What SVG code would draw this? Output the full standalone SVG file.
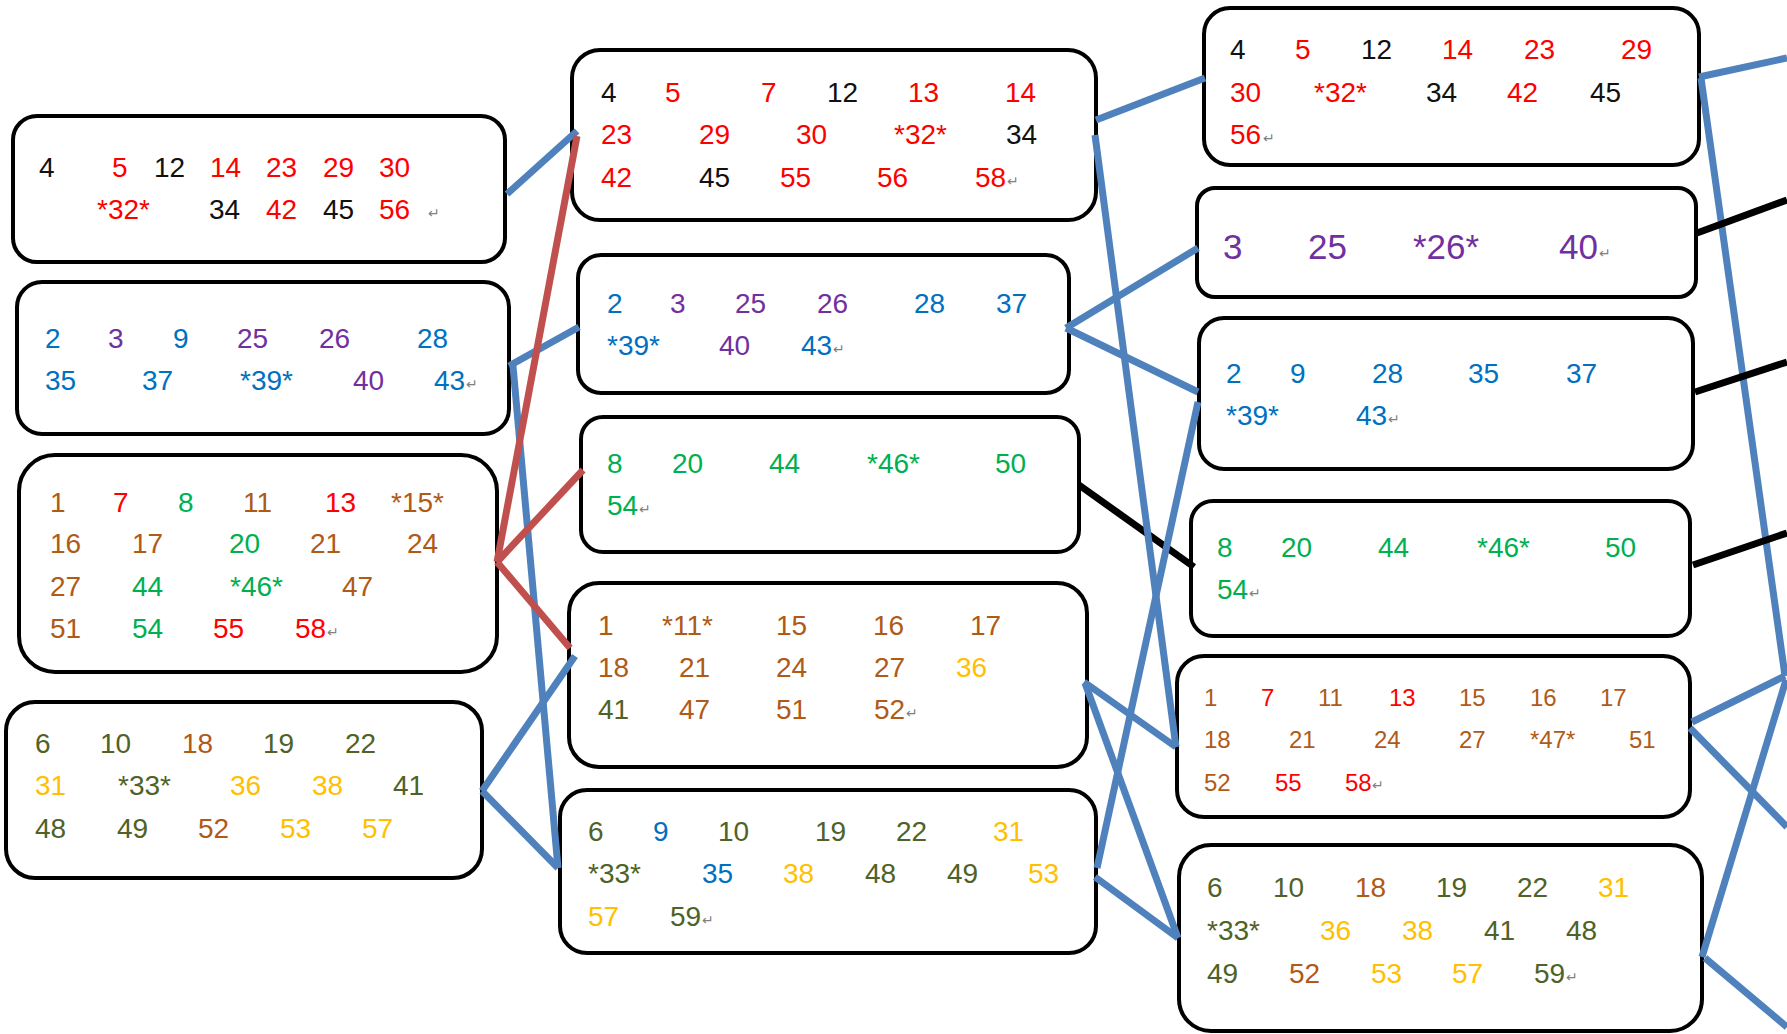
<svg xmlns="http://www.w3.org/2000/svg" width="1787" height="1034" viewBox="0 0 1787 1034">
<style>
.box{fill:#fff;stroke:#000;stroke-width:4}
text{font-family:"Liberation Sans",Arial,sans-serif;font-size:28px}
.s{font-size:24px}
.L{font-size:35px}
.k{fill:#111}
.r{fill:#FF0000}
.b{fill:#0070C0}
.p{fill:#7030A0}
.g{fill:#00B050}
.n{fill:#B05A18}
.o{fill:#4F6228}
.y{fill:#FFC000}
.m{fill:#808080;font-family:"DejaVu Sans",sans-serif;font-size:14px}
.bl{stroke:#4F81BD;stroke-width:7;fill:none}
.rd{stroke:#C0504D;stroke-width:7;fill:none}
.bk{stroke:#000;stroke-width:7;fill:none}
</style>
<rect width="1787" height="1034" fill="#fff"/>

<g id="A1">
<rect class="box" x="13" y="116" width="492" height="146" rx="24"/>
<text y="177"><tspan class="k" x="39">4</tspan><tspan class="r" x="112">5</tspan><tspan class="k" x="154">12</tspan><tspan class="r" x="210">14</tspan><tspan class="r" x="266">23</tspan><tspan class="r" x="323">29</tspan><tspan class="r" x="379">30</tspan></text>
<text y="219"><tspan class="r" x="97">*32*</tspan><tspan class="k" x="209">34</tspan><tspan class="r" x="266">42</tspan><tspan class="k" x="323">45</tspan><tspan class="r" x="379">56</tspan></text>
<text class="m" x="428" y="218">↵</text>
</g>

<g id="A2">
<rect class="box" x="17" y="282" width="492" height="152" rx="25"/>
<text y="348"><tspan class="b" x="45">2</tspan><tspan class="p" x="108">3</tspan><tspan class="b" x="173">9</tspan><tspan class="p" x="237">25</tspan><tspan class="p" x="319">26</tspan><tspan class="b" x="417">28</tspan></text>
<text y="390"><tspan class="b" x="45">35</tspan><tspan class="b" x="142">37</tspan><tspan class="b" x="240">*39*</tspan><tspan class="p" x="353">40</tspan><tspan class="b" x="434">43</tspan></text>
<text class="m" x="466" y="389">↵</text>
</g>

<g id="A3">
<rect class="box" x="19" y="455" width="478" height="217" rx="36"/>
<text y="512"><tspan class="n" x="50">1</tspan><tspan class="r" x="113">7</tspan><tspan class="g" x="178">8</tspan><tspan class="n" x="243">11</tspan><tspan class="r" x="325">13</tspan><tspan class="n" x="391">*15*</tspan></text>
<text y="553"><tspan class="n" x="50">16</tspan><tspan class="n" x="132">17</tspan><tspan class="g" x="229">20</tspan><tspan class="n" x="310">21</tspan><tspan class="n" x="407">24</tspan></text>
<text y="596"><tspan class="n" x="50">27</tspan><tspan class="g" x="132">44</tspan><tspan class="g" x="230">*46*</tspan><tspan class="n" x="342">47</tspan></text>
<text y="638"><tspan class="n" x="50">51</tspan><tspan class="g" x="132">54</tspan><tspan class="r" x="213">55</tspan><tspan class="r" x="295">58</tspan></text>
<text class="m" x="327" y="637">↵</text>
</g>

<g id="A4">
<rect class="box" x="6" y="702" width="476" height="176" rx="29"/>
<text y="753"><tspan class="o" x="35">6</tspan><tspan class="o" x="100">10</tspan><tspan class="n" x="182">18</tspan><tspan class="o" x="263">19</tspan><tspan class="o" x="345">22</tspan></text>
<text y="795"><tspan class="y" x="35">31</tspan><tspan class="o" x="118">*33*</tspan><tspan class="y" x="230">36</tspan><tspan class="y" x="312">38</tspan><tspan class="o" x="393">41</tspan></text>
<text y="838"><tspan class="o" x="35">48</tspan><tspan class="o" x="117">49</tspan><tspan class="n" x="198">52</tspan><tspan class="y" x="280">53</tspan><tspan class="y" x="362">57</tspan></text>
</g>

<g id="B1">
<rect class="box" x="572" y="50" width="524" height="170" rx="28"/>
<text y="102"><tspan class="k" x="601">4</tspan><tspan class="r" x="665">5</tspan><tspan class="r" x="761">7</tspan><tspan class="k" x="827">12</tspan><tspan class="r" x="908">13</tspan><tspan class="r" x="1005">14</tspan></text>
<text y="144"><tspan class="r" x="601">23</tspan><tspan class="r" x="699">29</tspan><tspan class="r" x="796">30</tspan><tspan class="r" x="894">*32*</tspan><tspan class="k" x="1006">34</tspan></text>
<text y="187"><tspan class="r" x="601">42</tspan><tspan class="k" x="699">45</tspan><tspan class="r" x="780">55</tspan><tspan class="r" x="877">56</tspan><tspan class="r" x="975">58</tspan></text>
<text class="m" x="1007" y="186">↵</text>
</g>

<g id="B2">
<rect class="box" x="578" y="255" width="491" height="138" rx="23"/>
<text y="313"><tspan class="b" x="607">2</tspan><tspan class="p" x="670">3</tspan><tspan class="p" x="735">25</tspan><tspan class="p" x="817">26</tspan><tspan class="b" x="914">28</tspan><tspan class="b" x="996">37</tspan></text>
<text y="355"><tspan class="b" x="607">*39*</tspan><tspan class="p" x="719">40</tspan><tspan class="b" x="801">43</tspan></text>
<text class="m" x="833" y="354">↵</text>
</g>

<g id="B3">
<rect class="box" x="581" y="417" width="498" height="135" rx="22"/>
<text y="473"><tspan class="g" x="607">8</tspan><tspan class="g" x="672">20</tspan><tspan class="g" x="769">44</tspan><tspan class="g" x="867">*46*</tspan><tspan class="g" x="995">50</tspan></text>
<text y="515"><tspan class="g" x="607">54</tspan></text>
<text class="m" x="639" y="514">↵</text>
</g>

<g id="B4">
<rect class="box" x="569" y="583" width="518" height="184" rx="30"/>
<text y="635"><tspan class="n" x="598">1</tspan><tspan class="n" x="662">*11*</tspan><tspan class="n" x="776">15</tspan><tspan class="n" x="873">16</tspan><tspan class="n" x="970">17</tspan></text>
<text y="677"><tspan class="n" x="598">18</tspan><tspan class="n" x="679">21</tspan><tspan class="n" x="776">24</tspan><tspan class="n" x="874">27</tspan><tspan class="y" x="956">36</tspan></text>
<text y="719"><tspan class="o" x="598">41</tspan><tspan class="n" x="679">47</tspan><tspan class="n" x="776">51</tspan><tspan class="n" x="874">52</tspan></text>
<text class="m" x="906" y="718">↵</text>
</g>

<g id="B5">
<rect class="box" x="560" y="790" width="536" height="163" rx="27"/>
<text y="841"><tspan class="o" x="588">6</tspan><tspan class="b" x="653">9</tspan><tspan class="o" x="718">10</tspan><tspan class="o" x="815">19</tspan><tspan class="o" x="896">22</tspan><tspan class="y" x="993">31</tspan></text>
<text y="883"><tspan class="o" x="588">*33*</tspan><tspan class="b" x="702">35</tspan><tspan class="y" x="783">38</tspan><tspan class="o" x="865">48</tspan><tspan class="o" x="947">49</tspan><tspan class="y" x="1028">53</tspan></text>
<text y="926"><tspan class="y" x="588">57</tspan><tspan class="o" x="670">59</tspan></text>
<text class="m" x="702" y="925">↵</text>
</g>

<g id="C1">
<rect class="box" x="1204" y="8" width="495" height="157" rx="26"/>
<text y="59"><tspan class="k" x="1230">4</tspan><tspan class="r" x="1295">5</tspan><tspan class="k" x="1361">12</tspan><tspan class="r" x="1442">14</tspan><tspan class="r" x="1524">23</tspan><tspan class="r" x="1621">29</tspan></text>
<text y="102"><tspan class="r" x="1230">30</tspan><tspan class="r" x="1314">*32*</tspan><tspan class="k" x="1426">34</tspan><tspan class="r" x="1507">42</tspan><tspan class="k" x="1590">45</tspan></text>
<text y="144"><tspan class="r" x="1230">56</tspan></text>
<text class="m" x="1263" y="143">↵</text>
</g>

<g id="C2">
<rect class="box" x="1197" y="188" width="499" height="109" rx="18"/>
<text class="L" y="259"><tspan class="p" x="1223">3</tspan><tspan class="p" x="1308">25</tspan><tspan class="p" x="1413">*26*</tspan><tspan class="p" x="1559">40</tspan></text>
<text class="m" x="1599" y="258">↵</text>
</g>

<g id="C3">
<rect class="box" x="1199" y="318" width="494" height="151" rx="25"/>
<text y="383"><tspan class="b" x="1226">2</tspan><tspan class="b" x="1290">9</tspan><tspan class="b" x="1372">28</tspan><tspan class="b" x="1468">35</tspan><tspan class="b" x="1566">37</tspan></text>
<text y="425"><tspan class="b" x="1226">*39*</tspan><tspan class="b" x="1356">43</tspan></text>
<text class="m" x="1388" y="424">↵</text>
</g>

<g id="C4">
<rect class="box" x="1191" y="501" width="499" height="135" rx="22"/>
<text y="557"><tspan class="g" x="1217">8</tspan><tspan class="g" x="1281">20</tspan><tspan class="g" x="1378">44</tspan><tspan class="g" x="1477">*46*</tspan><tspan class="g" x="1605">50</tspan></text>
<text y="599"><tspan class="g" x="1217">54</tspan></text>
<text class="m" x="1249" y="598">↵</text>
</g>

<g id="C5">
<rect class="box" x="1177" y="656" width="513" height="161" rx="27"/>
<text class="s" y="706"><tspan class="n" x="1204">1</tspan><tspan class="r" x="1261">7</tspan><tspan class="n" x="1318">11</tspan><tspan class="r" x="1389">13</tspan><tspan class="n" x="1459">15</tspan><tspan class="n" x="1530">16</tspan><tspan class="n" x="1600">17</tspan></text>
<text class="s" y="748"><tspan class="n" x="1204">18</tspan><tspan class="n" x="1289">21</tspan><tspan class="n" x="1374">24</tspan><tspan class="n" x="1459">27</tspan><tspan class="n" x="1530">*47*</tspan><tspan class="n" x="1629">51</tspan></text>
<text class="s" y="791"><tspan class="n" x="1204">52</tspan><tspan class="r" x="1275">55</tspan><tspan class="r" x="1345">58</tspan></text>
<text class="m" x="1372" y="790">↵</text>
</g>

<g id="C6">
<rect class="box" x="1179" y="845" width="523" height="186" rx="32"/>
<text y="897"><tspan class="o" x="1207">6</tspan><tspan class="o" x="1273">10</tspan><tspan class="n" x="1355">18</tspan><tspan class="o" x="1436">19</tspan><tspan class="o" x="1517">22</tspan><tspan class="y" x="1598">31</tspan></text>
<text y="940"><tspan class="o" x="1207">*33*</tspan><tspan class="y" x="1320">36</tspan><tspan class="y" x="1402">38</tspan><tspan class="o" x="1484">41</tspan><tspan class="o" x="1566">48</tspan></text>
<text y="983"><tspan class="o" x="1207">49</tspan><tspan class="n" x="1289">52</tspan><tspan class="y" x="1371">53</tspan><tspan class="y" x="1452">57</tspan><tspan class="o" x="1534">59</tspan></text>
<text class="m" x="1566" y="982">↵</text>
</g>

<g id="connectors">
<line class="bl" x1="507" y1="194" x2="577" y2="131"/>
<line class="bl" x1="509" y1="366" x2="579" y2="327"/>
<line class="bl" x1="513" y1="366" x2="558" y2="868"/>
<line class="bl" x1="482" y1="791" x2="575" y2="656"/>
<line class="bl" x1="482" y1="791" x2="558" y2="868"/>
<line class="rd" x1="577" y1="136" x2="497" y2="562"/>
<line class="rd" x1="497" y1="562" x2="583" y2="470"/>
<line class="rd" x1="497" y1="562" x2="570" y2="648"/>
<line class="bk" x1="1079" y1="485" x2="1194" y2="567"/>
<line class="bl" x1="1096" y1="120" x2="1205" y2="78"/>
<line class="bl" x1="1095" y1="135" x2="1176" y2="747"/>
<line class="bl" x1="1066" y1="328" x2="1198" y2="248"/>
<line class="bl" x1="1066" y1="328" x2="1198" y2="392"/>
<line class="bl" x1="1084" y1="682" x2="1176" y2="747"/>
<line class="bl" x1="1085" y1="683" x2="1178" y2="938"/>
<line class="bl" x1="1097" y1="868" x2="1198" y2="402"/>
<line class="bl" x1="1095" y1="877" x2="1178" y2="938"/>
<line class="bl" x1="1699" y1="77" x2="1787" y2="58"/>
<line class="bl" x1="1701" y1="78" x2="1785" y2="676"/>
<line class="bk" x1="1697" y1="233" x2="1787" y2="200"/>
<line class="bk" x1="1695" y1="392" x2="1787" y2="362"/>
<line class="bk" x1="1693" y1="565" x2="1787" y2="533"/>
<line class="bl" x1="1692" y1="722" x2="1785" y2="676"/>
<line class="bl" x1="1690" y1="728" x2="1787" y2="827"/>
<line class="bl" x1="1702" y1="957" x2="1786" y2="680"/>
<line class="bl" x1="1705" y1="958" x2="1787" y2="1027"/>
</g>
</svg>
